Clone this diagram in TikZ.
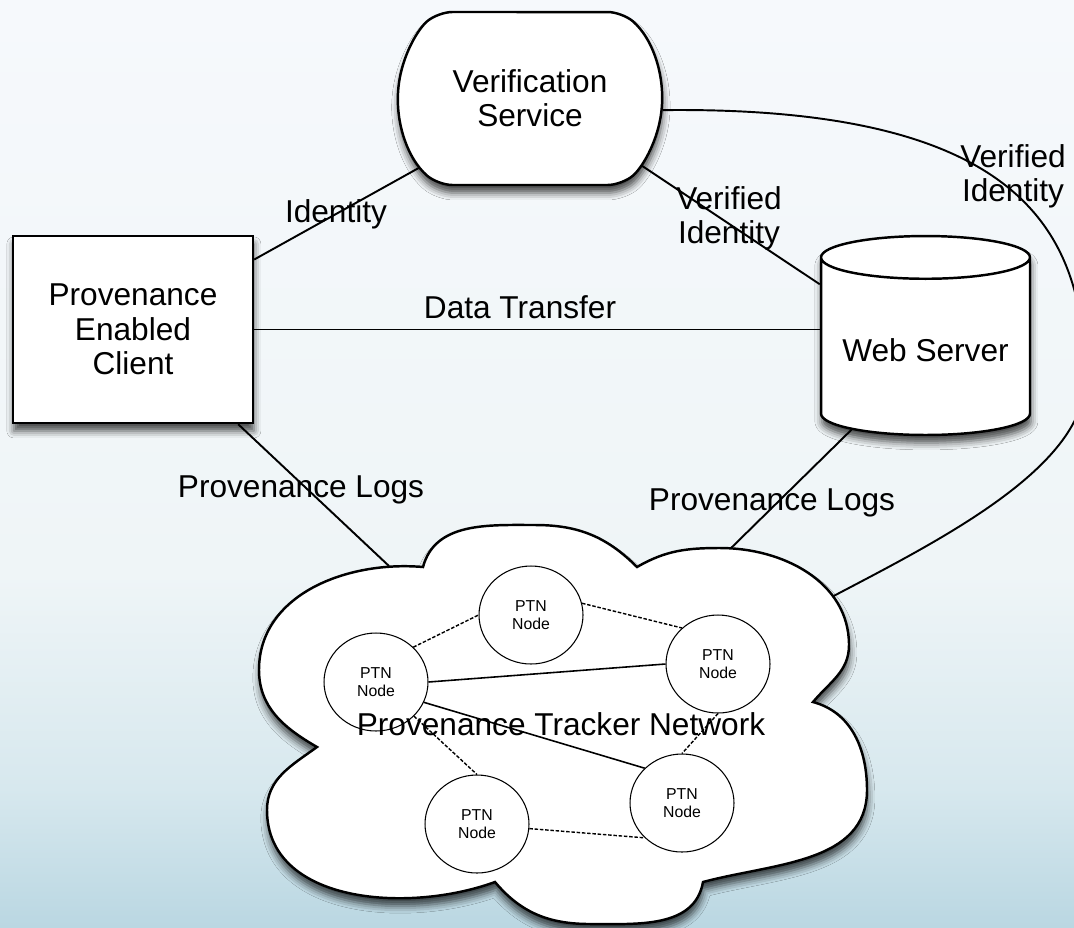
\documentclass[tikz,border=0pt]{standalone}
\usepackage{fontspec}
\setmainfont{Liberation Sans}
\usetikzlibrary{shapes.geometric,shapes.misc,shadows.blur}
\definecolor{bgtop}{RGB}{246,249,252}
\definecolor{bgup}{RGB}{239,245,247}
\definecolor{bglow}{RGB}{215,232,238}
\definecolor{bgbot}{RGB}{186,215,226}
\pgfdeclareverticalshading{bgshade}{100bp}{color(0bp)=(bgbot); color(25bp)=(bgbot); color(32.5bp)=(bglow); color(44bp)=(bgup); color(75bp)=(bgtop); color(100bp)=(bgtop)}
\newcommand{\lblfont}{\fontsize{18}{19.5}\selectfont}
\newcommand{\ptnfont}{\fontsize{9}{10.5}\selectfont}
\tikzset{myshadow/.style={blur shadow={shadow xshift=0.5pt,shadow yshift=-4.5pt,shadow blur radius=4pt,shadow opacity=70}}}
\begin{document}
\begin{tikzpicture}
		[	x=0.02cm,y=-0.02cm,
		box/.style={rectangle,draw=black,fill=white,line width=1.4pt,align=center,font=\lblfont,myshadow},
		ptn/.style={ellipse,draw=black,fill=white,line width=0.6pt,minimum width=2.08cm,minimum height=1.96cm,inner sep=0pt,align=center,font=\ptnfont},
		lbl/.style={draw=none,fill=none,font=\lblfont,align=center},
		link/.style={draw=black,line width=1.1pt},
		cloud/.style={draw=black,fill=white,line width=1.4pt,myshadow},
		ptnlink/.style={draw=black,line width=0.9pt},
		ptndash/.style={draw=black,line width=0.8pt,dash pattern=on 2pt off 1pt}
		]
		\useasboundingbox (0,0) rectangle (1074,927);
		\shade[shading=bgshade] (0,0) rectangle (1074,927);

		\node[box,minimum width=4.8cm,minimum height=3.74cm] (client) at (133,329.5){Provenance\\Enabled\\Client};
		\node[box,rounded rectangle,rounded rectangle arc length=100,rounded corners=8pt,minimum width=5.52cm,minimum height=3.46cm] (vs) at (530,98.5){Verification\\Service};
		\node[box,cylinder,shape border rotate=90,aspect=0.24,minimum width=4.18cm,minimum height=3.98cm,anchor=shape center] (ws) at (925.5,335.5){Web Server};

\coordinate (cl-nw) at (389,566);
\coordinate (cl-ne) at (727,552);
\coordinate (cl-e) at (826,600);

\draw[link] (client.30.8) -- (vs.212);
\draw[link] (client.east) -- (client.east -| ws.180);
\draw[link] (client.-42.5) -- (cl-nw);
\draw[link] (vs.-31) -- (ws.148.5);
\draw[link] (ws.227) -- (cl-ne);
\draw[link] (vs.-5.5) .. controls (1020,106) and (1085,230) .. (1085,380) .. controls (1085,470) and (930,545) .. (cl-e);

\draw[cloud] (423,567) to[out=75,in=180] (535,525) to[out=0,in=135] (637,567)
	to[out=30,in=180] (720,548) to[out=0,in=90] (849,645) to[out=-90,in=50] (813,702)
	to[out=-15,in=90] (867,790) to[out=-90,in=15] (703,882)
	to[out=-100,in=0] (590,924) to[out=180,in=-50] (495,882)
	to[out=200,in=-90] (267,810) to[out=90,in=216] (317,747)
	to[out=150,in=-90] (259,670) to[out=90,in=175] (423,567) -- cycle;

		\node[ptn] (n1) at (531,615){PTN\\Node};
		\node[ptn] (n2) at (376,682){PTN\\Node};
		\node[ptn] (n3) at (718,664){PTN\\Node};
		\node[ptn] (n4) at (477,824){PTN\\Node};
		\node[ptn] (n5) at (682,803){PTN\\Node};

\draw[ptndash] (n2.43) -- (n1.180);
\draw[ptndash] (n1.13) -- (n3.135);
\draw[ptnlink] (n2.0) -- (n3.180);
\draw[ptnlink] (n2.-23) -- (n5.137);
\draw[ptndash] (n2.-42) -- (n4.90);
\draw[ptndash] (n3.-90) -- (n5.90);
\draw[ptndash] (n4.-5) -- (n5.223);

\node[lbl,anchor=base] (idlbl) at (336,222){Identity};
\node[lbl,anchor=base] (dtlbl) at (520,318){Data Transfer};
\node[lbl] (vilbl) at (729,218){Verified\\Identity};
\node[lbl] (vilbl2) at (1013,176){Verified\\Identity};
\node[lbl,anchor=base] (pllbl) at (301,497){Provenance Logs};
\node[lbl,anchor=base] (pllbl2) at (772,510){Provenance Logs};
\node[lbl,anchor=base] (ptnlbl) at (561,735){Provenance Tracker Network};
	\end{tikzpicture}
\end{document}
